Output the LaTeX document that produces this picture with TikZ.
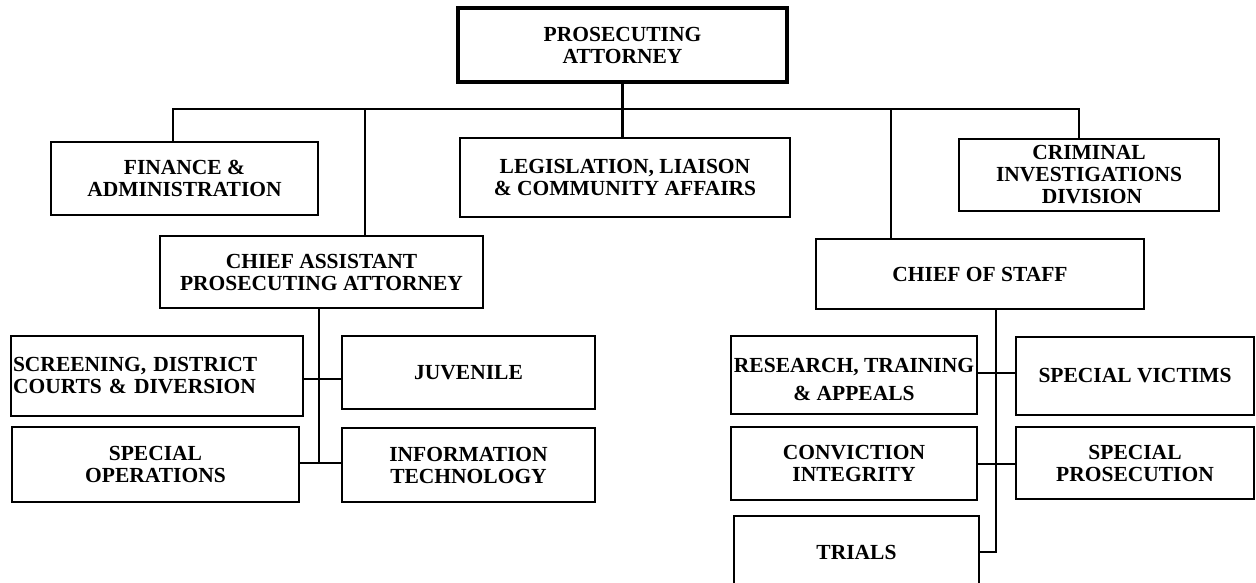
\documentclass[tikz,border=0pt]{standalone}
\usepackage{fontspec}
\setmainfont{Liberation Serif}
\begin{document}
\begin{tikzpicture}[x=1pt,y=-1pt,
  box/.style={draw=black, line width=2.6pt, fill=white, inner sep=0pt, align=center,
    font=\fontsize{21.5}{22}\selectfont\bfseries},
  lbl/.style={inner sep=0pt, align=center, font=\fontsize{21.5}{22}\selectfont\bfseries},
  conn/.style={draw=black, line width=2.4pt},
  sz/.style 2 args={minimum width=#1pt, minimum height=#2pt}]
\useasboundingbox (0,0) rectangle (1256,582);
\clip (0,0) rectangle (1256,582);
\fill[white] (0,0) rectangle (1256,582);

% top level
\node[box, line width=4pt, sz={329}{74}] (pa) at (622.5,45) {PROSECUTING\\ATTORNEY};

% second level
\node[box, sz={267}{73}] (fin) at (184.5,178.5) {FINANCE \&\\ADMINISTRATION};
\node[box, sz={330}{79}] (leg) at (625,177.5) {LEGISLATION, LIAISON\\\& COMMUNITY AFFAIRS};
\node[box, sz={260}{72}] (cid) at (1089,175) {};
\node[lbl] (cidT) at (1089,175) {CRIMINAL\\INVESTIGATIONS\hspace*{48pt}\\\hspace*{6pt}DIVISION};
\node[box, sz={323}{72}] (capa) at (321.5,272) {CHIEF ASSISTANT\\PROSECUTING ATTORNEY};
\node[box, sz={328}{70}] (cos) at (980,274) {CHIEF OF STAFF};

% left group
\node[box, align=left, text width=288pt, inner xsep=2pt, sz={292}{80}] (scr) at (157,376) {SCREENING, DISTRICT\\COURTS \& DIVERSION};
\node[box, sz={253}{73}] (juv) at (468.5,372.5) {JUVENILE};
\node[box, sz={287}{75}] (spo) at (155.5,464.5) {SPECIAL\\OPERATIONS};
\node[box, sz={253}{74}] (it) at (468.5,465) {INFORMATION\\TECHNOLOGY};

% right group
\node[box, sz={246}{78}] (rta) at (854,375) {};
\node[lbl, font=\fontsize{21.5}{28}\selectfont\bfseries] (rtaT) at (854,379) {RESEARCH, TRAINING\\\& APPEALS};
\node[box, sz={238}{78}] (sv) at (1135,376) {SPECIAL VICTIMS};
\node[box, sz={246}{73}] (ci) at (854,463.5) {CONVICTION\\INTEGRITY};
\node[box, sz={238}{72}] (sp) at (1135,463) {SPECIAL\\PROSECUTION};
\node[box, sz={245}{72}] (tr) at (856.5,552) {TRIALS};

% bus
\coordinate (b1) at (173,109);
\coordinate (b2) at (365,109);
\coordinate (b3) at (891,109);
\coordinate (b4) at (1079,109);
\draw[conn] (b1 |- fin.north) -- (b1) -- (b4) -- (b4 |- cid.north);
\draw[conn] (pa.south) -- (pa.south |- leg.north);
\draw[conn] (b2) -- (b2 |- capa.north);
\draw[conn] (b3) -- (b3 |- cos.north);

% left tree
\coordinate (l1) at (319,379);
\coordinate (l2) at (319,463);
\draw[conn] (l1 |- capa.south) -- (l2);
\draw[conn] (l1 -| scr.east) -- (l1 -| juv.west);
\draw[conn] (l2 -| spo.east) -- (l2 -| it.west);

% right tree
\coordinate (r1) at (996,373);
\coordinate (r2) at (996,464);
\coordinate (r3) at (996,552);
\draw[conn] (r1 |- cos.south) -- (r3) -- (tr.east);
\draw[conn] (r1 -| rta.east) -- (r1 -| sv.west);
\draw[conn] (r2 -| ci.east) -- (r2 -| sp.west);
\end{tikzpicture}
\end{document}
